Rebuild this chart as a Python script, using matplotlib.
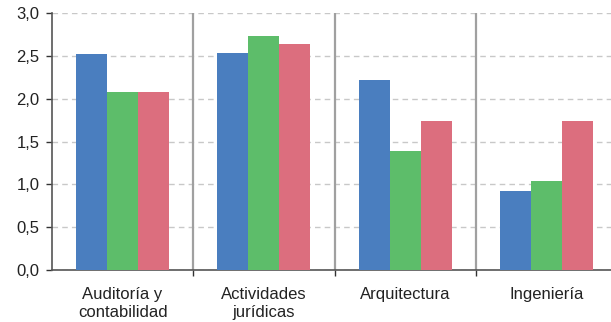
import numpy as np
import matplotlib.pyplot as plt

plt.rcParams['font.family'] = ['Liberation Sans', 'DejaVu Sans']

categorias = ['Auditoría y\ncontabilidad', 'Actividades\njurídicas', 'Arquitectura', 'Ingeniería']
serie_a = [2.52, 2.53, 2.22, 0.92]
serie_b = [2.08, 2.73, 1.39, 1.04]
serie_c = [2.08, 2.64, 1.74, 1.74]
colores = ['#4a7ebf', '#5dbd6a', '#dc6e7e']

fig = plt.figure(figsize=(6.11, 3.22), dpi=100)
ax = fig.add_axes([52 / 611, 52 / 322, 565 / 611, 257 / 322])

x = np.arange(len(categorias))
w = 0.22
for i, (vals, col) in enumerate(zip([serie_a, serie_b, serie_c], colores)):
    ax.bar(x + (i - 1) * w, vals, width=w, color=col, zorder=3)

ax.set_xlim(-0.5, len(categorias) - 0.5)
ax.set_ylim(0, 3.0)
yt = np.arange(0, 3.01, 0.5)
ax.set_yticks(yt)
ax.set_yticklabels([f'{v:.1f}'.replace('.', ',') for v in yt])
ax.yaxis.grid(True, color='#c8c8c8', linestyle=(0, (4, 3)), linewidth=1, zorder=0)

# separadores entre grupos
for s in x[:-1] + 0.5:
    ax.axvline(s, color='#a0a0a0', linewidth=1.6, zorder=2)

ax.set_xticks(x[:-1] + 0.5, minor=True)
ax.set_xticks(x)
ax.set_xticklabels(categorias, linespacing=1.25)
ax.tick_params(axis='x', which='major', length=0, pad=12, labelsize=12, colors='#222222')
ax.tick_params(axis='x', which='minor', length=4, width=1, color='#333333', direction='out')
ax.tick_params(axis='y', length=4, width=1, color='#333333', labelsize=12, labelcolor='#222222', pad=5)

for side in ['top', 'right']:
    ax.spines[side].set_visible(False)
ax.spines['left'].set_color('#555555')
ax.spines['bottom'].set_color('#555555')
ax.spines['left'].set_linewidth(1.2)
ax.spines['bottom'].set_linewidth(1.2)

fig.savefig('out.png', dpi=100)
